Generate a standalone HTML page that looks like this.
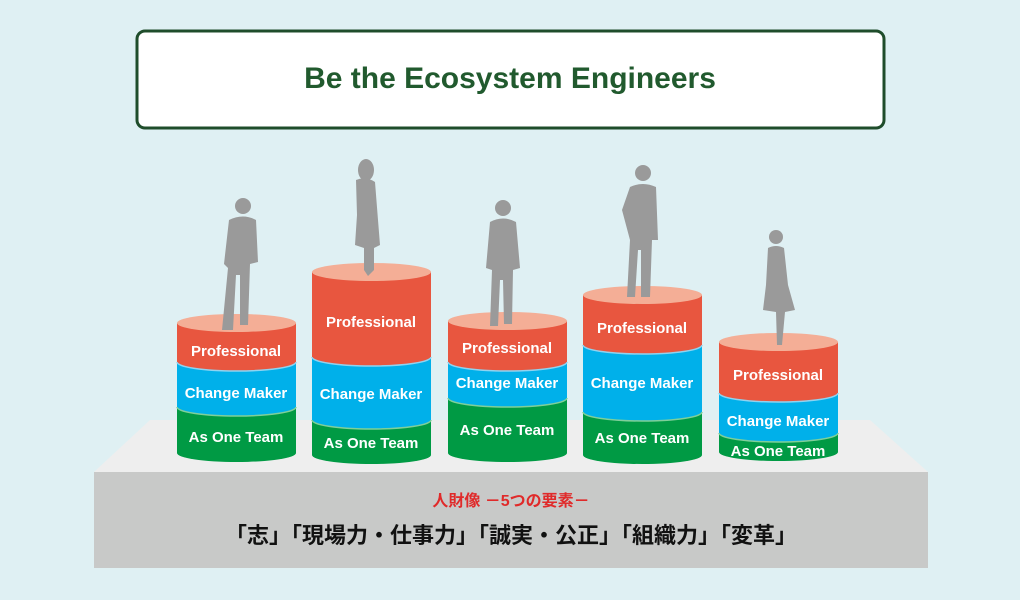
<!DOCTYPE html>
<html><head><meta charset="utf-8"><style>
body{margin:0;width:1020px;height:600px;background:#dff0f3;overflow:hidden}
svg{display:block}
</style></head><body>
<svg width="1020" height="600" viewBox="0 0 1020 600" xmlns="http://www.w3.org/2000/svg">
<rect width="1020" height="600" fill="#dff0f3"/>
<rect x="137" y="31" width="747" height="97" rx="8" fill="#fff" stroke="#1f4d2b" stroke-width="3"/>
<text x="510" y="88" text-anchor="middle" font-family="Liberation Sans, sans-serif" font-weight="bold" font-size="30" fill="#215a2e">Be the Ecosystem Engineers</text>
<polygon points="150,420 870,420 928,472 94,472" fill="#eeeeee"/>
<rect x="94" y="472" width="834" height="96" fill="#c8c9c8"/>
<text x="511" y="506" text-anchor="middle" font-family="Liberation Sans, 'Noto Sans CJK JP', sans-serif" font-weight="bold" font-size="16" fill="#e02a2a">人財像 －5つの要素－</text>
<text x="511" y="543" text-anchor="middle" font-family="Liberation Sans, 'Noto Sans CJK JP', sans-serif" font-weight="bold" font-size="22" fill="#111">「志」「現場力・仕事力」「誠実・公正」「組織力」「変革」</text>
<g font-family="Liberation Sans, sans-serif" font-weight="bold" fill="#fff" text-anchor="middle">
<g>
<path d="M177 407 H296 V453 A59.5 9 0 0 1 177 453 Z" fill="#009a44"/>
<path d="M177 362 H296 V407 A59.5 9 0 0 1 177 407 Z" fill="#00b0ea"/>
<path d="M296 407 A59.5 9 0 0 1 177 407" fill="none" stroke="#7fcf9a" stroke-width="1.5"/>
<path d="M177 323 H296 V362 A59.5 9 0 0 1 177 362 Z" fill="#e8563f"/>
<path d="M296 362 A59.5 9 0 0 1 177 362" fill="none" stroke="#8fd3f0" stroke-width="1.5"/>
<ellipse cx="236.5" cy="323" rx="59.5" ry="9" fill="#f4ae96"/>
<text x="236" y="356" font-size="15">Professional</text>
<text x="236" y="398" font-size="15">Change Maker</text>
<text x="236" y="442" font-size="15">As One Team</text>
</g>
<g>
<path d="M312 420 H431 V455 A59.5 9 0 0 1 312 455 Z" fill="#009a44"/>
<path d="M312 357 H431 V420 A59.5 9 0 0 1 312 420 Z" fill="#00b0ea"/>
<path d="M431 420 A59.5 9 0 0 1 312 420" fill="none" stroke="#7fcf9a" stroke-width="1.5"/>
<path d="M312 272 H431 V357 A59.5 9 0 0 1 312 357 Z" fill="#e8563f"/>
<path d="M431 357 A59.5 9 0 0 1 312 357" fill="none" stroke="#8fd3f0" stroke-width="1.5"/>
<ellipse cx="371.5" cy="272" rx="59.5" ry="9" fill="#f4ae96"/>
<text x="371" y="327" font-size="15">Professional</text>
<text x="371" y="399" font-size="15">Change Maker</text>
<text x="371" y="448" font-size="15">As One Team</text>
</g>
<g>
<path d="M448 398 H567 V453 A59.5 9 0 0 1 448 453 Z" fill="#009a44"/>
<path d="M448 362 H567 V398 A59.5 9 0 0 1 448 398 Z" fill="#00b0ea"/>
<path d="M567 398 A59.5 9 0 0 1 448 398" fill="none" stroke="#7fcf9a" stroke-width="1.5"/>
<path d="M448 321 H567 V362 A59.5 9 0 0 1 448 362 Z" fill="#e8563f"/>
<path d="M567 362 A59.5 9 0 0 1 448 362" fill="none" stroke="#8fd3f0" stroke-width="1.5"/>
<ellipse cx="507.5" cy="321" rx="59.5" ry="9" fill="#f4ae96"/>
<text x="507" y="353" font-size="15">Professional</text>
<text x="507" y="388" font-size="15">Change Maker</text>
<text x="507" y="435" font-size="15">As One Team</text>
</g>
<g>
<path d="M583 412 H702 V455 A59.5 9 0 0 1 583 455 Z" fill="#009a44"/>
<path d="M583 345 H702 V412 A59.5 9 0 0 1 583 412 Z" fill="#00b0ea"/>
<path d="M702 412 A59.5 9 0 0 1 583 412" fill="none" stroke="#7fcf9a" stroke-width="1.5"/>
<path d="M583 295 H702 V345 A59.5 9 0 0 1 583 345 Z" fill="#e8563f"/>
<path d="M702 345 A59.5 9 0 0 1 583 345" fill="none" stroke="#8fd3f0" stroke-width="1.5"/>
<ellipse cx="642.5" cy="295" rx="59.5" ry="9" fill="#f4ae96"/>
<text x="642" y="333" font-size="15">Professional</text>
<text x="642" y="388" font-size="15">Change Maker</text>
<text x="642" y="443" font-size="15">As One Team</text>
</g>
<g>
<path d="M719 433 H838 V452 A59.5 9 0 0 1 719 452 Z" fill="#009a44"/>
<path d="M719 393 H838 V433 A59.5 9 0 0 1 719 433 Z" fill="#00b0ea"/>
<path d="M838 433 A59.5 9 0 0 1 719 433" fill="none" stroke="#7fcf9a" stroke-width="1.5"/>
<path d="M719 342 H838 V393 A59.5 9 0 0 1 719 393 Z" fill="#e8563f"/>
<path d="M838 393 A59.5 9 0 0 1 719 393" fill="none" stroke="#8fd3f0" stroke-width="1.5"/>
<ellipse cx="778.5" cy="342" rx="59.5" ry="9" fill="#f4ae96"/>
<text x="778" y="380" font-size="15">Professional</text>
<text x="778" y="426" font-size="15">Change Maker</text>
<text x="778" y="456" font-size="15">As One Team</text>
</g>
</g>
<g fill="#9a9a9a">
<circle cx="243" cy="206" r="8"/>
<path d="M229 220 Q243 213 256 220 L258 262 L250 264 L248 325 L240 325 L240 275 L236 275 L233 330 L222 330 L228 268 L224 264 Z"/>
<ellipse cx="366" cy="170" rx="8" ry="11"/>
<path d="M356 180 Q366 176 375 182 L378 220 L380 245 L374 248 L374 270 L368 276 L364 270 L364 248 L355 245 L357 215 Z"/>
<circle cx="503" cy="208" r="8"/>
<path d="M490 222 Q503 215 516 222 L520 268 L513 270 L512 324 L504 324 L503 280 L500 280 L498 326 L490 326 L492 270 L486 268 Z"/>
<circle cx="643" cy="173" r="8"/>
<path d="M630 187 Q643 181 656 187 L658 240 L652 240 L650 297 L641 297 L641 250 L638 250 L635 297 L627 297 L630 240 L622 210 Z"/>
<circle cx="776" cy="237" r="7"/>
<path d="M768 248 Q776 244 784 248 L788 285 L795 310 L785 312 L782 345 L777 345 L776 312 L763 310 L766 285 Z"/>
</g>
</svg>
</body></html>
